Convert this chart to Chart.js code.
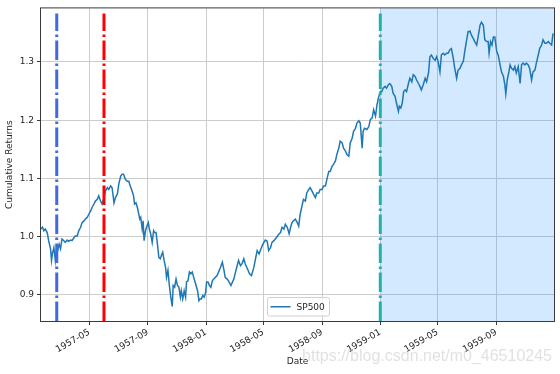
<!DOCTYPE html>
<html lang="en">
<head>
<meta charset="UTF-8">
<title>SP500 Cumulative Returns</title>
<script src="https://cdn.jsdelivr.net/npm/chart.js@4.4.1/dist/chart.umd.min.js"></script>
<style>
  body { margin: 0; background: #fff; }
</style>
</head>
<body>
<canvas id="dataChart" width="560" height="374"></canvas>
<script>
// dates, values off the y axis
const dates = [
  '1957-01-20','1957-01-23','1957-01-26','1957-01-29','1957-02-02','1957-02-05','1957-02-09','1957-02-11','1957-02-13','1957-02-16',
  '1957-02-19','1957-02-22','1957-02-24','1957-02-27','1957-03-02','1957-03-05','1957-03-09','1957-03-12','1957-03-16','1957-03-19',
  '1957-03-23','1957-03-26','1957-03-30','1957-04-02','1957-04-06','1957-04-09','1957-04-13','1957-04-16','1957-04-20','1957-04-23',
  '1957-04-27','1957-04-30','1957-05-04','1957-05-07','1957-05-11','1957-05-14','1957-05-18','1957-05-21','1957-05-25','1957-05-28',
  '1957-06-01','1957-06-04','1957-06-08','1957-06-11','1957-06-15','1957-06-18','1957-06-22','1957-06-25','1957-06-29','1957-07-02',
  '1957-07-06','1957-07-09','1957-07-12','1957-07-16','1957-07-20','1957-07-23','1957-07-26','1957-07-30','1957-08-02','1957-08-04',
  '1957-08-07','1957-08-10','1957-08-13','1957-08-15','1957-08-17','1957-08-20','1957-08-22','1957-08-24','1957-08-27','1957-08-30',
  '1957-09-02','1957-09-04','1957-09-07','1957-09-10','1957-09-13','1957-09-15','1957-09-18','1957-09-21','1957-09-24','1957-09-27',
  '1957-09-29','1957-10-02','1957-10-05','1957-10-08','1957-10-10','1957-10-13','1957-10-16','1957-10-19','1957-10-22','1957-10-24',
  '1957-10-27','1957-10-30','1957-11-02','1957-11-05','1957-11-08','1957-11-10','1957-11-13','1957-11-16','1957-11-19','1957-11-21',
  '1957-11-24','1957-11-27','1957-11-30','1957-12-03','1957-12-05','1957-12-08','1957-12-11','1957-12-14','1957-12-17','1957-12-19',
  '1957-12-22','1957-12-25','1957-12-28','1957-12-31','1958-01-02','1958-01-05','1958-01-08','1958-01-11','1958-01-14','1958-01-17',
  '1958-01-24','1958-01-31','1958-02-04','1958-02-07','1958-02-10','1958-02-14','1958-02-17','1958-02-22','1958-02-28','1958-03-07',
  '1958-03-10','1958-03-14','1958-03-17','1958-03-21','1958-03-24','1958-03-29','1958-04-02','1958-04-06','1958-04-11','1958-04-15',
  '1958-04-18','1958-04-22','1958-04-26','1958-04-30','1958-05-05','1958-05-09','1958-05-12','1958-05-16','1958-05-19','1958-05-23',
  '1958-05-26','1958-05-30','1958-06-02','1958-06-06','1958-06-09','1958-06-13','1958-06-16','1958-06-20','1958-06-24','1958-06-27',
  '1958-06-30','1958-07-03','1958-07-07','1958-07-11','1958-07-14','1958-07-17','1958-07-21','1958-07-24','1958-07-28','1958-07-31',
  '1958-08-04','1958-08-07','1958-08-11','1958-08-14','1958-08-18','1958-08-21','1958-08-25','1958-08-28','1958-09-01','1958-09-04',
  '1958-09-08','1958-09-11','1958-09-15','1958-09-18','1958-09-22','1958-09-25','1958-09-29','1958-10-02','1958-10-06','1958-10-09',
  '1958-10-13','1958-10-16','1958-10-20','1958-10-23','1958-10-27','1958-10-30','1958-11-03','1958-11-06','1958-11-10','1958-11-13',
  '1958-11-17','1958-11-20','1958-11-24','1958-11-26','1958-11-29','1958-12-04','1958-12-08','1958-12-11','1958-12-15','1958-12-18',
  '1958-12-22','1958-12-25','1958-12-28','1959-01-01','1959-01-04','1959-01-07','1959-01-11','1959-01-14','1959-01-18','1959-01-21',
  '1959-01-25','1959-01-28','1959-02-01','1959-02-04','1959-02-08','1959-02-10','1959-02-13','1959-02-16','1959-02-19','1959-02-22',
  '1959-02-25','1959-03-01','1959-03-04','1959-03-08','1959-03-11','1959-03-15','1959-03-18','1959-03-22','1959-03-25','1959-03-28',
  '1959-04-01','1959-04-05','1959-04-08','1959-04-12','1959-04-15','1959-04-18','1959-04-22','1959-04-26','1959-04-29','1959-05-02',
  '1959-05-06','1959-05-09','1959-05-13','1959-05-16','1959-05-20','1959-05-23','1959-05-27','1959-05-30','1959-06-03','1959-06-06',
  '1959-06-10','1959-06-13','1959-06-17','1959-06-20','1959-06-24','1959-06-27','1959-07-01','1959-07-04','1959-07-08','1959-07-11',
  '1959-07-15','1959-07-18','1959-07-22','1959-07-25','1959-07-29','1959-08-01','1959-08-05','1959-08-08','1959-08-12','1959-08-15',
  '1959-08-17','1959-08-20','1959-08-23','1959-08-26','1959-08-29','1959-09-02','1959-09-05','1959-09-09','1959-09-12','1959-09-16',
  '1959-09-19','1959-09-21','1959-09-24','1959-09-27','1959-09-30','1959-10-03','1959-10-07','1959-10-10','1959-10-13','1959-10-17',
  '1959-10-21','1959-10-24','1959-10-27','1959-10-31','1959-11-03','1959-11-07','1959-11-10','1959-11-14','1959-11-17','1959-11-21',
  '1959-11-24','1959-11-28','1959-12-01','1959-12-05','1959-12-08','1959-12-12','1959-12-15','1959-12-19','1959-12-22','1959-12-26',
  '1959-12-29'
];
const sp500 = [
  1.013,1.016,1.010,1.013,1.007,0.993,0.979,0.959,0.971,0.981,
  0.959,0.981,0.976,0.987,0.979,0.996,0.993,0.990,0.994,0.992,
  0.994,0.993,0.998,1.001,1.001,1.010,1.016,1.024,1.027,1.030,
  1.033,1.038,1.044,1.050,1.056,1.061,1.064,1.070,1.061,1.056,
  1.067,1.078,1.084,1.081,1.087,1.084,1.058,1.067,1.073,1.090,
  1.104,1.107,1.107,1.098,1.095,1.095,1.087,1.078,1.070,1.056,
  1.058,1.050,1.038,1.030,1.033,1.013,1.027,0.993,1.010,1.018,
  1.024,1.013,1.004,0.990,1.010,1.007,1.007,0.987,0.964,0.962,
  0.967,0.973,0.959,0.947,0.930,0.942,0.916,0.896,0.880,0.916,
  0.913,0.927,0.916,0.913,0.896,0.907,0.893,0.907,0.896,0.922,
  0.924,0.939,0.936,0.939,0.933,0.924,0.916,0.907,0.890,0.893,
  0.893,0.899,0.896,0.904,0.922,0.922,0.916,0.913,0.924,0.927,
  0.933,0.947,0.956,0.944,0.930,0.927,0.924,0.916,0.927,0.950,
  0.959,0.950,0.953,0.962,0.953,0.944,0.936,0.933,0.947,0.964,
  0.976,0.970,0.979,0.987,0.994,0.992,0.976,0.981,0.990,0.993,
  0.996,1.000,1.004,1.007,1.016,1.013,1.021,1.016,1.005,1.016,
  1.024,1.027,1.030,1.024,1.018,1.038,1.053,1.064,1.061,1.075,
  1.081,1.084,1.078,1.073,1.067,1.075,1.075,1.081,1.081,1.087,
  1.087,1.098,1.112,1.112,1.121,1.124,1.130,1.141,1.152,1.164,
  1.161,1.152,1.147,1.141,1.138,1.161,1.169,1.181,1.186,1.195,
  1.199,1.195,1.152,1.181,1.186,1.184,1.189,1.201,1.204,1.218,
  1.207,1.226,1.238,1.249,1.249,1.255,1.258,1.255,1.261,1.263,
  1.258,1.246,1.241,1.229,1.215,1.224,1.221,1.229,1.249,1.252,
  1.249,1.263,1.272,1.266,1.278,1.275,1.269,1.263,1.258,1.252,
  1.261,1.272,1.266,1.281,1.309,1.312,1.306,1.303,1.309,1.301,
  1.283,1.312,1.315,1.312,1.315,1.315,1.321,1.323,1.306,1.289,
  1.272,1.286,1.289,1.295,1.301,1.318,1.338,1.352,1.353,1.346,
  1.340,1.335,1.329,1.343,1.363,1.368,1.363,1.338,1.335,1.335,
  1.315,1.335,1.329,1.343,1.343,1.318,1.312,1.295,1.283,1.275,
  1.261,1.245,1.269,1.281,1.295,1.289,1.286,1.292,1.281,1.292,
  1.263,1.295,1.298,1.295,1.298,1.295,1.289,1.269,1.283,1.286,
  1.298,1.312,1.323,1.329,1.338,1.332,1.332,1.335,1.332,1.329,
  1.349
];
const xEnd = '1959-12-31';
const tickLabels = ['1957-05', '1957-09', '1958-01', '1958-05', '1958-09', '1959-01', '1959-05', '1959-09'];
const yTicks = [0.9, 1.0, 1.1, 1.2, 1.3];
const yMin = 0.855, yMax = 1.392;
const markerDates = ['1957-02-22', '1957-06-01', '1959-01-01'];
const markerColors = ['#4169e1', '#ff0000', '#20b2aa'];
const shadeStart = '1959-01-01';
const seriesName = 'SP500';

const font = { family: 'DejaVu Sans', size: 9 };

const decor = {
    id: 'decor',
    beforeDatasetsDraw(chart) {
        const { ctx, chartArea: a, scales: { x } } = chart;
        const x0 = x.getPixelForValue(Date.parse(shadeStart));
        ctx.save();
        ctx.fillStyle = 'rgba(30, 144, 255, 0.2)';
        ctx.fillRect(x0, a.top, a.right - x0, a.bottom - a.top);
        ctx.restore();
    },
    afterDatasetsDraw(chart) {
        const { ctx, chartArea: a, scales: { x } } = chart;
        ctx.save();
        ctx.lineWidth = 3;
        ctx.setLineDash([19.5, 3.5, 2.5, 3.5]);
        markerDates.forEach((d, i) => {
            const px = x.getPixelForValue(Date.parse(d));
            ctx.strokeStyle = markerColors[i];
            ctx.beginPath();
            ctx.moveTo(px, a.bottom);
            ctx.lineTo(px, a.top + 5);
            ctx.stroke();
        });
        // axes frame
        ctx.setLineDash([]);
        ctx.lineWidth = 1;
        ctx.strokeStyle = '#3a3a3a';
        ctx.strokeRect(a.left - 0.5, a.top - 0.5, a.right - a.left + 1, a.bottom - a.top + 1);
        ctx.restore();
    },
    afterDraw(chart) {
        const { ctx, chartArea: a } = chart;
        ctx.save();
        // legend, lower center
        const w = 62, h = 18.5;
        const bx = (a.left + a.right) / 2 - w / 2 + 1, by = a.bottom - 5 - h;
        ctx.fillStyle = 'rgba(255, 255, 255, 0.8)';
        ctx.strokeStyle = '#d0d0d0';
        ctx.lineWidth = 1;
        ctx.beginPath();
        ctx.roundRect(bx, by, w, h, 2);
        ctx.fill();
        ctx.stroke();
        ctx.strokeStyle = '#1f77b4';
        ctx.lineWidth = 1.5;
        ctx.beginPath();
        ctx.moveTo(bx + 3, by + h / 2);
        ctx.lineTo(bx + 23, by + h / 2);
        ctx.stroke();
        ctx.fillStyle = '#262626';
        ctx.font = '9px "DejaVu Sans"';
        ctx.textBaseline = 'middle';
        ctx.fillText(seriesName, bx + 29, by + h / 2 + 0.5);
        // watermark
        ctx.font = '16px "Liberation Sans"';
        ctx.fillStyle = 'rgba(205, 205, 205, 0.6)';
        ctx.textAlign = 'right';
        ctx.textBaseline = 'alphabetic';
        ctx.fillText('https://blog.csdn.net/m0_46510245', 552, 361);
        ctx.restore();
    }
};

const ctx = document.getElementById('dataChart').getContext('2d');
new Chart(ctx, {
    type: 'line',
    data: {
        datasets: [{
            label: seriesName,
            data: dates.map((d, i) => ({ x: Date.parse(d), y: sp500[i] })),
            borderColor: '#1f77b4',
            borderWidth: 1.5,
            pointRadius: 0,
            tension: 0,
            fill: false
        }]
    },
    options: {
        responsive: false,
        animation: false,
        layout: { padding: { top: 7, right: 6, left: 0, bottom: 0 } },
        plugins: {
            legend: { display: false },
            tooltip: { enabled: false }
        },
        scales: {
            x: {
                type: 'linear',
                min: Date.parse(dates[0]),
                max: Date.parse(xEnd),
                afterBuildTicks: s => { s.ticks = tickLabels.map(t => ({ value: Date.parse(t + '-01') })); },
                afterFit: s => { s.height = 53; },
                ticks: {
                    autoSkip: false,
                    minRotation: 30,
                    maxRotation: 30,
                    padding: 2,
                    color: '#262626',
                    font: font,
                    callback: v => tickLabels[tickLabels.map(t => Date.parse(t + '-01')).indexOf(v)]
                },
                grid: { color: '#cccccc', tickColor: '#3a3a3a', tickLength: 4 },
                border: { display: false },
                title: { display: true, text: 'Date', color: '#262626', font: font, padding: { top: 0, bottom: 7 } }
            },
            y: {
                min: yMin,
                max: yMax,
                afterBuildTicks: s => { s.ticks = yTicks.map(v => ({ value: v })); },
                afterFit: s => { s.width = 41; },
                ticks: {
                    padding: 3,
                    color: '#262626',
                    font: font,
                    callback: v => v.toFixed(1)
                },
                grid: { color: '#cccccc', tickColor: '#3a3a3a', tickLength: 4 },
                border: { display: false },
                title: { display: true, text: 'Cumulative Returns', color: '#262626', font: font, padding: { top: 4, bottom: 0 } }
            }
        }
    },
    plugins: [decor]
});
</script>
</body>
</html>
